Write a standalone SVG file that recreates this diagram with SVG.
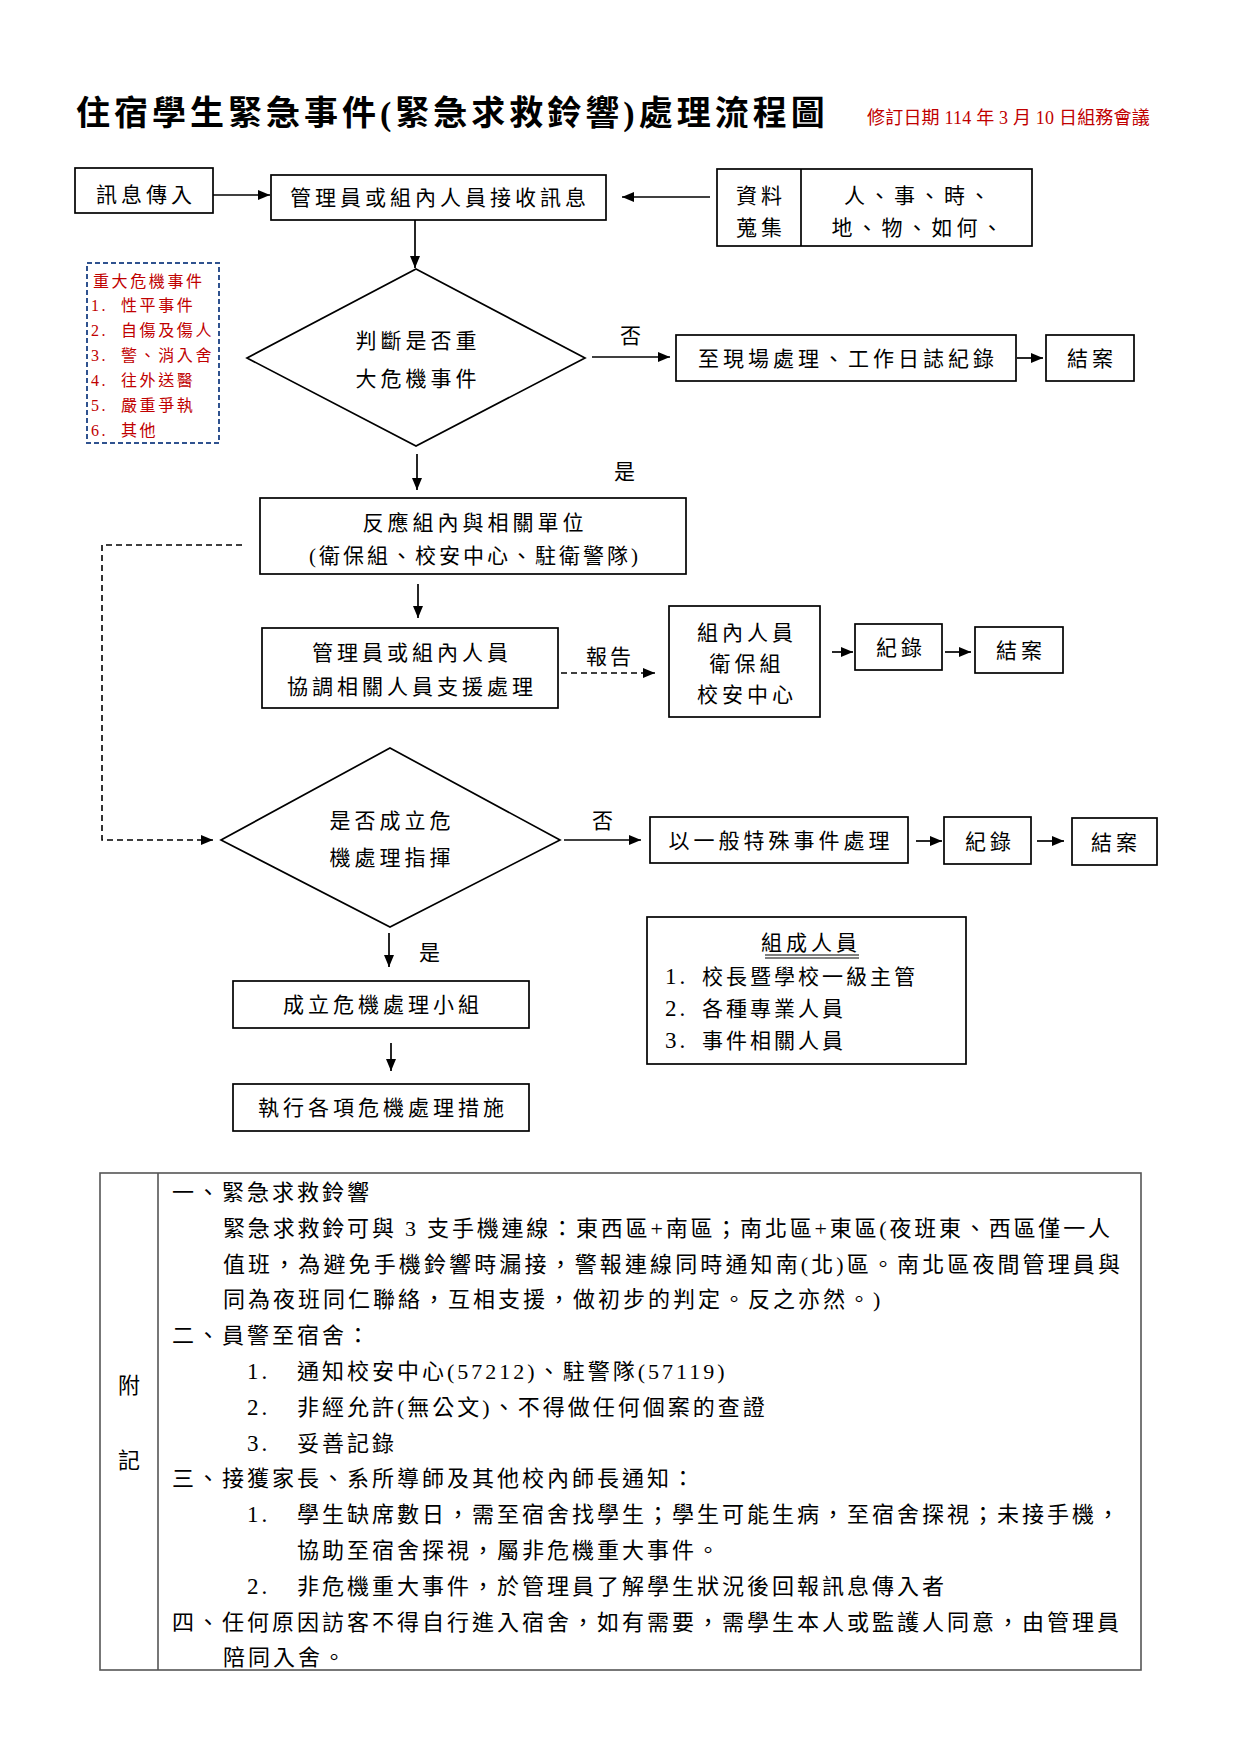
<svg xmlns="http://www.w3.org/2000/svg" width="1241" height="1755" viewBox="0 0 1241 1755">
<style>
text{font-family:"Liberation Serif","Noto Sans CJK TC",serif;fill:#000}
.n{font-size:21px;letter-spacing:4px;text-anchor:middle}
.s{font-size:21px;letter-spacing:3px}
.d{font-size:23px}
.r{font-size:16px;letter-spacing:2.6px;fill:#C00000}
.tb{font-size:22px;letter-spacing:3px}
.td{font-size:23px}
.box{fill:#fff;stroke:#000;stroke-width:1.7}
.ln{fill:none;stroke:#000;stroke-width:1.7}
.dash{fill:none;stroke:#000;stroke-width:1.6;stroke-dasharray:6 4}
</style>
<defs>
<marker id="ah" markerUnits="userSpaceOnUse" markerWidth="12" markerHeight="10" refX="12" refY="5" orient="auto">
<path d="M0,0 L12,5 L0,10 z" fill="#000"/>
</marker>
</defs>
<rect width="1241" height="1755" fill="#fff"/>

<g id="title">
<text x="76" y="125" style="font-size:34px;font-weight:bold;letter-spacing:4px">住宿學生緊急事件(緊急求救鈴響)處理流程圖</text>
<text x="867" y="124" style="font-size:18px;fill:#C00000;letter-spacing:0.2px">修訂日期 114 年 3 月 10 日組務會議</text>
</g>

<g id="connectors">
<line class="ln" x1="213" y1="195" x2="270" y2="195" marker-end="url(#ah)"/>
<line class="ln" x1="710" y1="197" x2="622" y2="197" marker-end="url(#ah)"/>
<line class="ln" x1="415" y1="219" x2="415" y2="268" marker-end="url(#ah)"/>
<line class="ln" x1="592" y1="357" x2="670" y2="357" marker-end="url(#ah)"/>
<line class="ln" x1="1017" y1="358" x2="1043" y2="358" marker-end="url(#ah)"/>
<line class="ln" x1="417" y1="454" x2="417" y2="490" marker-end="url(#ah)"/>
<line class="ln" x1="418" y1="584" x2="418" y2="618" marker-end="url(#ah)"/>
<line class="dash" x1="561" y1="673" x2="655" y2="673" marker-end="url(#ah)"/>
<line class="ln" x1="832" y1="652" x2="853" y2="652" marker-end="url(#ah)"/>
<line class="ln" x1="945" y1="652" x2="971" y2="652" marker-end="url(#ah)"/>
<line class="ln" x1="564" y1="840" x2="641" y2="840" marker-end="url(#ah)"/>
<line class="ln" x1="916" y1="841" x2="942" y2="841" marker-end="url(#ah)"/>
<line class="ln" x1="1037" y1="841" x2="1064" y2="841" marker-end="url(#ah)"/>
<line class="ln" x1="389" y1="933" x2="389" y2="967" marker-end="url(#ah)"/>
<line class="ln" x1="391" y1="1043" x2="391" y2="1071" marker-end="url(#ah)"/>
<path class="dash" d="M242,545 H102 V840 H213" marker-end="url(#ah)"/>
<text x="620" y="343" class="s">否</text>
<text x="614" y="479" class="s">是</text>
<text x="586" y="664" class="s">報告</text>
<text x="592" y="828" class="s">否</text>
<text x="419" y="960" class="s">是</text>
</g>

<g id="n_input">
<rect class="box" x="75" y="168" width="138" height="45"/>
<text x="146" y="202" class="n">訊息傳入</text>
</g>

<g id="n_receive">
<rect class="box" x="271" y="175" width="335" height="45"/>
<text x="440" y="205" class="n">管理員或組內人員接收訊息</text>
</g>

<g id="n_data">
<rect class="box" x="717" y="169" width="315" height="77"/>
<line class="ln" x1="801" y1="169" x2="801" y2="246"/>
<text x="761" y="203" class="n">資料</text>
<text x="761" y="235" class="n">蒐集</text>
<text x="919" y="203" class="n">人、事、時、</text>
<text x="919" y="235" class="n">地、物、如何、</text>
</g>

<g id="n_crisislist">
<rect x="87" y="263" width="132" height="180" fill="#fff" stroke="#2F528F" stroke-width="2" stroke-dasharray="5 3"/>
<text x="93" y="287" class="r">重大危機事件</text>
<text x="91" y="311" class="r">1.</text><text x="121" y="311" class="r">性平事件</text>
<text x="91" y="336" class="r">2.</text><text x="121" y="336" class="r">自傷及傷人</text>
<text x="91" y="361" class="r">3.</text><text x="121" y="361" class="r">警、消入舍</text>
<text x="91" y="386" class="r">4.</text><text x="121" y="386" class="r">往外送醫</text>
<text x="91" y="411" class="r">5.</text><text x="121" y="411" class="r">嚴重爭執</text>
<text x="91" y="436" class="r">6.</text><text x="121" y="436" class="r">其他</text>
</g>

<g id="n_decide1">
<polygon class="box" points="416,269 585,358 416,446 247,358"/>
<text x="418" y="348" class="n">判斷是否重</text>
<text x="418" y="386" class="n">大危機事件</text>
</g>

<g id="n_onsite">
<rect class="box" x="676" y="335" width="340" height="46"/>
<text x="848" y="366" class="n">至現場處理、工作日誌紀錄</text>
</g>

<g id="n_close1">
<rect class="box" x="1046" y="335" width="88" height="46"/>
<text x="1092" y="366" class="n">結案</text>
</g>

<g id="n_respond">
<rect class="box" x="260" y="498" width="426" height="76"/>
<text x="475" y="530" class="n">反應組內與相關單位</text>
<text x="475" y="563" style="font-size:21px;letter-spacing:3px;text-anchor:middle">(衛保組、校安中心、駐衛警隊)</text>
</g>

<g id="n_coord">
<rect class="box" x="262" y="628" width="296" height="80"/>
<text x="412" y="660" class="n">管理員或組內人員</text>
<text x="412" y="694" class="n">協調相關人員支援處理</text>
</g>

<g id="n_members">
<rect class="box" x="669" y="606" width="151" height="111"/>
<text x="747" y="640" class="n">組內人員</text>
<text x="747" y="671" class="n">衛保組</text>
<text x="747" y="702" class="n">校安中心</text>
</g>

<g id="n_record1">
<rect class="box" x="855" y="624" width="87" height="46"/>
<text x="901" y="655" class="n">紀錄</text>
</g>

<g id="n_close2">
<rect class="box" x="975" y="627" width="88" height="46"/>
<text x="1021" y="658" class="n">結案</text>
</g>

<g id="n_decide2">
<polygon class="box" points="390,748 560,840 390,927 221,840"/>
<text x="392" y="828" class="n">是否成立危</text>
<text x="392" y="865" class="n">機處理指揮</text>
</g>

<g id="n_general">
<rect class="box" x="650" y="817" width="258" height="46"/>
<text x="781" y="848" class="n">以一般特殊事件處理</text>
</g>

<g id="n_record2">
<rect class="box" x="944" y="817" width="87" height="47"/>
<text x="990" y="849" class="n">紀錄</text>
</g>

<g id="n_close3">
<rect class="box" x="1072" y="818" width="85" height="47"/>
<text x="1116" y="850" class="n">結案</text>
</g>

<g id="n_team">
<rect class="box" x="233" y="981" width="296" height="47"/>
<text x="383" y="1012" class="n">成立危機處理小組</text>
</g>

<g id="n_execute">
<rect class="box" x="233" y="1084" width="296" height="47"/>
<text x="383" y="1115" class="n">執行各項危機處理措施</text>
</g>

<g id="n_composition">
<rect class="box" x="647" y="917" width="319" height="147"/>
<text x="811" y="950" class="n">組成人員</text>
<line x1="765" y1="955" x2="859" y2="955" stroke="#000" stroke-width="1"/>
<line x1="765" y1="958" x2="859" y2="958" stroke="#000" stroke-width="1"/>
<text x="665" y="984" class="s d">1.</text><text x="702" y="984" class="s">校長暨學校一級主管</text>
<text x="665" y="1016" class="s d">2.</text><text x="702" y="1016" class="s">各種專業人員</text>
<text x="665" y="1048" class="s d">3.</text><text x="702" y="1048" class="s">事件相關人員</text>
</g>

<g id="notes">
<rect x="100" y="1173" width="1041" height="497" fill="none" stroke="#555" stroke-width="1.6"/>
<line x1="158" y1="1173" x2="158" y2="1670" stroke="#555" stroke-width="1.6"/>
<text x="118" y="1393" class="tb">附</text>
<text x="118" y="1468" class="tb">記</text>
<text x="172" y="1200" class="tb">一、緊急求救鈴響</text>
<text x="223" y="1236" class="tb" textLength="890">緊急求救鈴可與 3 支手機連線：東西區+南區；南北區+東區(夜班東、西區僅一人</text>
<text x="223" y="1272" class="tb" textLength="900">值班，為避免手機鈴響時漏接，警報連線同時通知南(北)區。南北區夜間管理員與</text>
<text x="223" y="1307" class="tb">同為夜班同仁聯絡，互相支援，做初步的判定。反之亦然。)</text>
<text x="172" y="1343" class="tb">二、員警至宿舍：</text>
<text x="247" y="1379" class="tb td">1.</text><text x="297" y="1379" class="tb">通知校安中心(57212)、駐警隊(57119)</text>
<text x="247" y="1415" class="tb td">2.</text><text x="297" y="1415" class="tb">非經允許(無公文)、不得做任何個案的查證</text>
<text x="247" y="1451" class="tb td">3.</text><text x="297" y="1451" class="tb">妥善記錄</text>
<text x="172" y="1486" class="tb">三、接獲家長、系所導師及其他校內師長通知：</text>
<text x="247" y="1522" class="tb td">1.</text><text x="297" y="1522" class="tb">學生缺席數日，需至宿舍找學生；學生可能生病，至宿舍探視；未接手機，</text>
<text x="297" y="1558" class="tb">協助至宿舍探視，屬非危機重大事件。</text>
<text x="247" y="1594" class="tb td">2.</text><text x="297" y="1594" class="tb">非危機重大事件，於管理員了解學生狀況後回報訊息傳入者</text>
<text x="172" y="1630" class="tb">四、任何原因訪客不得自行進入宿舍，如有需要，需學生本人或監護人同意，由管理員</text>
<text x="223" y="1665" class="tb">陪同入舍。</text>
</g>
</svg>
